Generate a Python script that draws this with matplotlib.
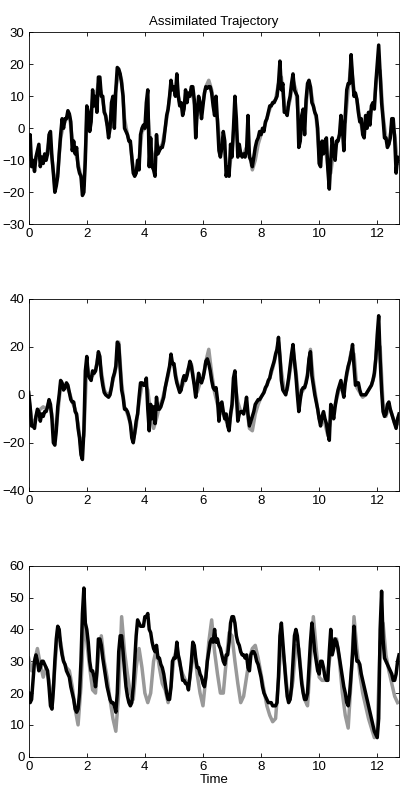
import numpy as np
import matplotlib
matplotlib.use("Agg")
import matplotlib.pyplot as plt

plt.rcParams['font.family'] = ['Liberation Sans', 'DejaVu Sans']

# sampling step of the readings (time units)
dt_est = 0.05
dt_true = 0.1

# panel 1: x component
x_est = [-8, -2, -12, -10, -13.5, -9, -7, -5, -12, -9, -11, -8, -10, -8, -2, -1, -9, -14, -20, -18,
         -15, -8, -2, 3, 0, 3, 3, 5.5, 4.5, 2, -7, -4, -8, -6, -12, -14, -15, -21, -20, -10,
         7, 5, -1, 2, 12, 7, 10, 5, 16, 16, 10, 10, 5, 4, 1, -3, 0, 8, 10, 0,
         12, 19, 18.5, 17, 14, 10, 0, -1, -2, -4, -4, -9, -14, -15, -14, -10, -13, -2, 0, 1,
         0, 8, 12, -12, -3, -12, -13, -15, -2, -8, -7, -6, -6, -4, 0, 4, 6, 10, 15, 12,
         13, 10, 17, 10, 7, 8, 4, 6, 12, 8, 11, 10, 13, 13, 9, -3, 5, 10, 8, 3,
         7, 11, 13, 12.5, 13, 13, 11, 7, 4, 10, 2, -7, -9, -6, -1, -4, -15, -12, -15, -5,
         -9, 0, 10, 3, -9, -5, -8, -9, -8, -9, -7, 4, -9, -10, -12, -9, -6, -4, -3, -1,
         -2, 0, -1, 2, 3, 5, 7, 7, 8, 8, 9, 10, 14, 21, 12, 14, 5, 5, 4, 8,
         10, 14, 17, 12, 11, 10, -6, -4, 4, 6, -2, 9, 14, 15, 13, 8, 7, 5, 4, 0,
         -11, -12, -4, -8, -4, -3, -13, -19, -10, -3, -8, -10, -4, -4, -2, 4, 0, -7, 4, 12,
         14, 14, 23, 16, 10, 11, 9, 5, 2, 3, -2, -3, 4, 0, 5, 1, 7, 8, 6, 14,
         20, 26, 17, 8, 3, -3, -3, -6, -5, -3, 3, 3, -3, -14, -9, -10]
x_true = [-9, -10, -11, -8, -10, -9, -9, -4, -9, -18, -14, -3, 1, 3, 4, -3, -7, -11, -15, -18,
          3, 2, 9, 9, 14, 11, 6, 1, 0, 7, 12, 18, 15, 3, -2, -5, -13, -14, -10, -1,
          0, 5, -6, -10, -7, -6, -5, 0, 6, 13, 12, 13, 8, 6, 9, 10, 12, 8, 4, 7,
          8, 13, 15, 12, 6, 3, -7, -4, -11, -13, -7, 4, -5, -8, -8, -6, -8, -13, -10, -5,
          -2, 0, 3, 6, 8, 9, 14, 16, 7, 5, 9, 15, 12, 2, 1, 2, 12, 13, 7, 3,
          -8, -7, -5, -12, -14, -7, -5, -2, 1, 2, 12, 20, 12, 9, 3, -1, 1, 3, 6, 8,
          18, 18, 4, -3, -5, 1, -2, -11]

# panel 2: y component
y_est = [1, -5, -13, -13, -14, -9, -6, -7, -11, -8, -9, -7, -7, -5, -2, -4, -10, -20, -21, -15,
         -5, 0, 6, 5, 2, 3, 5, 4, 1, -2, -3, -3, -7, -8, -14, -18, -25, -27, -15, 10,
         16, 8, 7, 6, 10, 9, 10, 13, 18, 16, 8, 4, 1, 0, -0.5, -1, 0, 3, 7, 9,
         12, 22, 21, 11, 2, -1, -6, -6, -7, -9, -12, -18, -20, -16, -11, -8, -1, 5, 5, 4,
         4, 7, -6, -15, -4, -10, -5, -12, -1, -6, -6, -5, -3, -1, 3, 6, 9, 12, 17, 13,
         13, 8, 5, 3, 1, 2, 6, 8, 6, 8, 11, 14, 12, 8, 4, -1, 4, 9, 6, 5,
         7, 10, 14, 15, 13, 10, 6, 3, 2, 3, -2, -11, -4, -3, -7, -10, -8, -13, -15, -8,
         -4, 7, 10, 0, -11, -8, -7, -7, -8, -5, -1, -8, -13, -11, -9, -7, -4, -3, -2, -2,
         -1, 0, 1, 3, 4, 6, 7, 10, 12, 14, 17, 19, 24, 16, 6, 2, 1, 0, 3, 7,
         12, 17, 21, 14, 8, 0, -7, -2, 2, 3, 3, 5, 8, 15, 18, 8, 4, 0, -3, -6,
         -10, -13, -9, -7, -10, -12, -16, -19, -4, -6, -10, -5, -1, 2, 4, 6, 2, -1, 5, 9,
         12, 14, 17, 21, 12, 4, 5, 5, 2, 0, 0, 0, 0, 1, 2, 3, 4, 6, 9, 15,
         25, 33, 15, 2, -7, -9, -8, -4, -3, -6, -8, -10, -12, -14, -10, -8]
y_true = [-1, -10, -12, -7, -6, -5, -6, -3, -8, -19, -8, 4, 4, 4, 1, -3, -6, -12, -22, -17,
          13, 7, 8, 10, 17, 10, 2, 0, 1, 6, 11, 22, 5, -5, -8, -12, -19, -13, -3, 4,
          5, 2, -8, -14, -10, -5, -2, 3, 8, 14, 13, 6, 2, 4, 7, 11, 13, 5, 1, 5,
          7, 14, 19, 9, 1, -4, -7, -8, -11, -13, -5, 5, -3, -7, -7, -5, -14, -15, -8, -4,
          -1, 1, 4, 7, 11, 16, 22, 10, 2, 2, 10, 19, 10, -2, 1, 3, 9, 19, 6, -2,
          -10, -11, -12, -17, -10, -6, -2, 3, 2, 5, 11, 18, 17, 3, 1, -1, 0, 2, 4, 8,
          22, 20, -4, -9, -5, -8, -12, -12]

# panel 3: z component
z_est = [20, 17, 18, 24, 30, 32, 30, 27, 28, 30, 30, 29, 28, 27, 22, 16, 15, 21, 30, 37,
         41, 40, 35, 32, 30, 29, 27, 26, 25, 22, 20, 18, 15, 14, 15, 20, 30, 45, 53, 42,
         40, 36, 30, 27, 27, 25, 22, 27, 37, 37, 35, 31, 28, 25, 22, 20, 18, 17, 17, 16,
         14, 20, 33, 38, 38, 33, 27, 22, 19, 17, 16, 17, 22, 30, 38, 43, 42, 41, 41, 41,
         44, 44, 45, 40, 39, 36, 34, 33, 35, 31, 31, 29, 28, 26, 23, 20, 18, 18, 22, 30,
         31, 31, 36, 32, 30, 27, 24, 24, 23, 23, 21, 25, 30, 36, 35, 31, 28, 28, 26, 25,
         23, 22, 25, 30, 33, 36, 37, 36, 40, 36, 37, 35, 34, 32, 30, 29, 32, 32, 36, 42,
         44, 44, 42, 38, 36, 35, 33, 32, 32, 31, 32, 28, 27, 32, 33, 33, 32, 30, 29, 27,
         25, 22, 20, 19, 18, 17, 17, 17, 16, 16, 16, 17, 25, 38, 42, 36, 30, 24, 19, 17,
         18, 22, 30, 38, 40, 38, 33, 28, 23, 20, 18, 18, 20, 28, 36, 42, 38, 33, 30, 27,
         26, 30, 30, 28, 25, 24, 24, 33, 40, 32, 34, 37, 36, 34, 31, 28, 25, 22, 20, 17,
         16, 20, 26, 32, 41, 34, 30, 30, 29, 26, 24, 22, 20, 18, 16, 14, 12, 10, 8, 7,
         6, 12, 40, 52, 37, 31, 30, 29, 28, 27, 26, 24, 24, 26, 30, 32]
z_true = [31, 27, 30, 34, 29, 25, 28, 24, 15, 28, 40, 36, 30, 28, 27, 22, 15, 10, 22, 42,
          36, 28, 21, 20, 32, 38, 30, 25, 18, 12, 8, 20, 44, 33, 26, 20, 18, 28, 34, 28,
          20, 17, 20, 30, 34, 28, 23, 21, 17, 22, 31, 34, 29, 26, 24, 22, 28, 34, 26, 20,
          16, 25, 36, 43, 33, 26, 20, 20, 30, 39, 38, 30, 23, 17, 19, 25, 31, 34, 35, 31,
          26, 21, 16, 13, 11, 12, 24, 37, 30, 21, 18, 24, 35, 34, 24, 18, 16, 30, 44, 34,
          25, 24, 24, 27, 33, 37, 37, 30, 20, 13, 9, 24, 44, 34, 26, 20, 16, 12, 9, 6,
          8, 36, 42, 32, 27, 23, 19, 17]

panels = [
    (x_true, x_est, (-30, 30), [-30, -20, -10, 0, 10, 20, 30]),
    (y_true, y_est, (-40, 40), [-40, -20, 0, 20, 40]),
    (z_true, z_est, (0, 60), [0, 10, 20, 30, 40, 50, 60]),
]

fig = plt.figure(figsize=(4.07, 7.99), dpi=100)
boxes = [[0.0705, 0.7193, 0.9106, 0.2403],
         [0.0705, 0.3859, 0.9106, 0.2399],
         [0.0705, 0.0529, 0.9106, 0.2390]]

for i, (truth, est, ylim, yt) in enumerate(panels):
    ax = fig.add_axes(boxes[i])
    t_true = np.arange(len(truth)) * dt_true
    t_est = np.arange(len(est)) * dt_est
    ax.plot(t_true, truth, color='#999999', linewidth=2.5, solid_joinstyle='round')
    ax.plot(t_est, est, color='black', linewidth=2.5, solid_joinstyle='round')
    ax.set_xlim(0, 12.76)
    ax.set_ylim(*ylim)
    ax.set_yticks(yt)
    ax.set_xticks([0, 2, 4, 6, 8, 10, 12])
    ax.tick_params(direction='in', top=True, right=True, labelsize=9.5, length=3, width=0.6, pad=3)
    for s in ax.spines.values():
        s.set_linewidth(0.6)
    if i == 0:
        ax.set_title('Assimilated Trajectory', fontsize=9.5, pad=5)
    if i == 2:
        ax.set_xlabel('Time', fontsize=9.5, labelpad=1)

fig.savefig('out.png', dpi=100)
